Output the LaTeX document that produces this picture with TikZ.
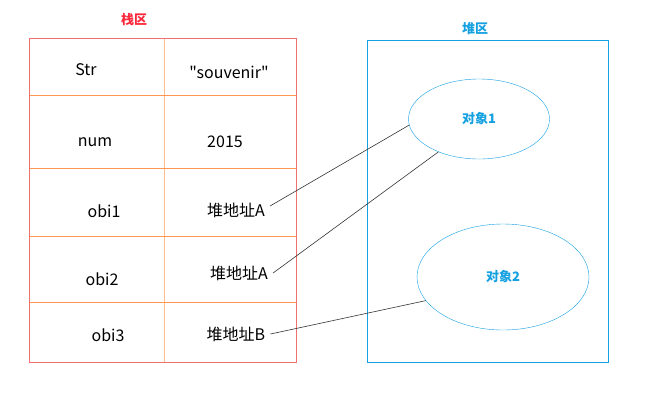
\documentclass[tikz,border=0pt]{standalone}
\usepackage{fontspec}
\newfontfamily\cjk{Noto Sans CJK SC}
\usepackage{tikz}
\usetikzlibrary{shapes.geometric}
\definecolor{stackRed}{RGB}{240,112,112}
\definecolor{titleRed}{RGB}{250,40,60}
\definecolor{rowOrange}{RGB}{255,150,80}
\definecolor{colOrange}{RGB}{255,190,140}
\definecolor{heapBlue}{RGB}{20,160,225}
\tikzstyle{cellText} = [text=black, inner sep=5pt,
	font=\cjk\fontsize{16}{19}\selectfont]
\tikzstyle{areaLabel} = [inner sep=1pt, font=\cjk\fontsize{13}{15}\selectfont\bfseries]
\tikzstyle{heapObj} = [shape=ellipse, draw=heapBlue, text=heapBlue,
	inner sep=0pt, font=\cjk\fontsize{13}{15}\selectfont\bfseries]
\tikzstyle{refLine} = [draw=black!80, line width=0.6pt]

\begin{document}
\begin{tikzpicture}[x=1pt, y=-1pt]
  \useasboundingbox (0,0) rectangle (668,400);
  % stack area
  \node[areaLabel, text=titleRed] (stackTitle) at (134,20) {栈区};
  \draw[colOrange, line width=0.8pt] (164,38) -- (164,362);
  \foreach \y in {95,168,236,302}
  	\draw[rowOrange, line width=0.8pt] (29,\y) -- (296,\y);
  \draw[stackRed, line width=1pt] (29,38) rectangle (296,362);
  \node[cellText] (str) at (86,70) {Str};
  \node[cellText] (strVal) at (229,72) {"souvenir"};
  \node[cellText] (num) at (95,142) {num};
  \node[cellText] (numVal) at (225,142) {2015};
  \node[cellText] (obiOne) at (104,211) {obi1};
  \node[cellText] (addrOne) at (236,210) {堆地址A};
  \node[cellText] (obiTwo) at (102,279) {obi2};
  \node[cellText] (addrTwo) at (239,273) {堆地址A};
  \node[cellText] (obiThree) at (108,335) {obi3};
  \node[cellText] (addrThree) at (236,334) {堆地址B};
  % heap area
  \node[areaLabel, text=heapBlue] (heapTitle) at (475,29) {堆区};
  \draw[heapBlue, line width=1pt] (367,40) rectangle (608,362);
  \node[heapObj, minimum width=141pt, minimum height=80pt] (objOne) at (479,119) {对象1};
  \node[heapObj, minimum width=172pt, minimum height=106pt] (objTwo) at (503,277) {对象2};
  % references
  \draw[refLine] ([yshift=4pt]addrOne.east) -- (objOne.185);
  \draw[refLine] (addrTwo.east) -- (objOne.219);
  \draw[refLine] (addrThree.east) -- (objTwo.197);
\end{tikzpicture}
\end{document}
